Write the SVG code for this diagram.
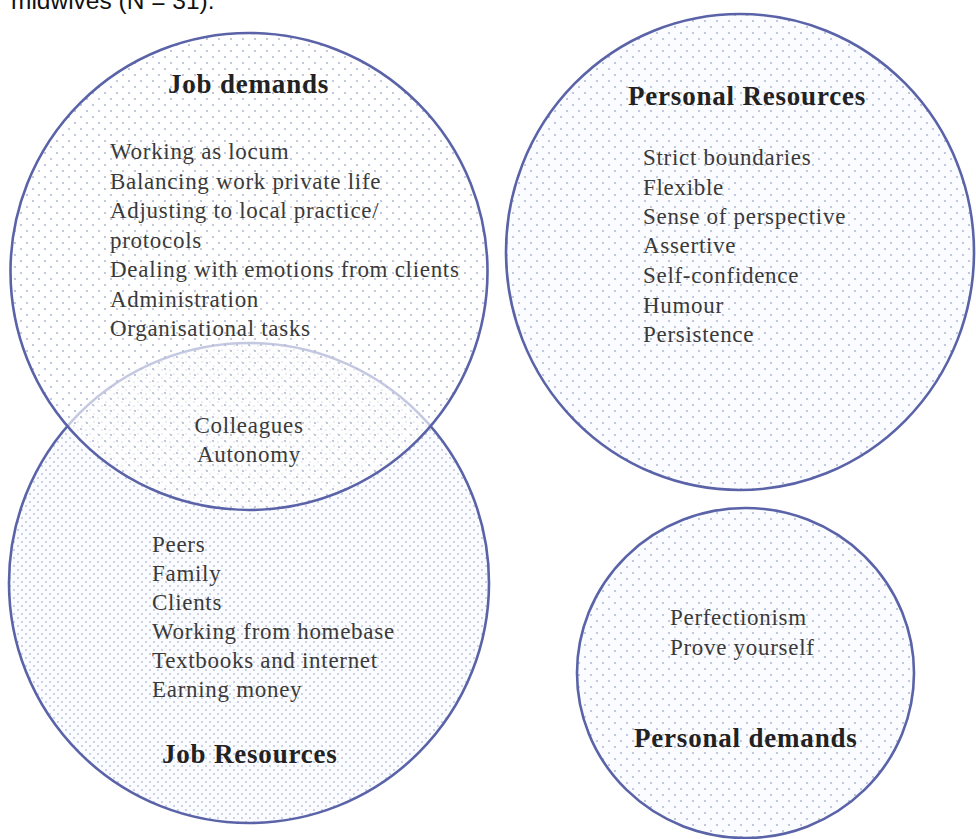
<svg xmlns="http://www.w3.org/2000/svg" width="976" height="839" viewBox="0 0 976 839">
  <defs>
    <pattern id="dots" width="12" height="12" patternUnits="userSpaceOnUse">
      <circle cx="3" cy="3" r="1.1" fill="#b4bbd4"/>
      <circle cx="9" cy="9" r="1.1" fill="#b4bbd4"/>
    </pattern>
    <pattern id="dotsDense" width="8" height="8" patternUnits="userSpaceOnUse">
      <circle cx="2" cy="2" r="1" fill="#bcc3da"/>
      <circle cx="6" cy="6" r="1" fill="#bcc3da"/>
    </pattern>
  </defs>
  <style>
    .ring { stroke: #5a63a8; stroke-width: 2.6; }
    .title { font-family: "Liberation Serif", "Times New Roman", serif; font-weight: bold; font-size: 27px; letter-spacing: 0.8px; fill: #222; }
    .item { font-family: "Liberation Serif", "Times New Roman", serif; font-size: 23px; letter-spacing: 0.7px; fill: #3a3a3a; }
    .caption { font-family: "Liberation Sans", Arial, sans-serif; font-size: 24.5px; fill: #111; }
  </style>

  <rect width="976" height="839" fill="#ffffff"/>

  <!-- caption line, partly cut off at the top edge -->
  <text class="caption" x="11" y="9">midwives (N = 31).</text>

  <!-- Job Resources (lower left circle) -->
  <g id="job-resources">
    <circle cx="249" cy="583" r="240" fill="#fbfcff"/>
    <circle cx="249" cy="583" r="240" fill="url(#dotsDense)" class="ring"/>
    <text class="item" x="152" y="552">Peers</text>
    <text class="item" x="152" y="581">Family</text>
    <text class="item" x="152" y="610">Clients</text>
    <text class="item" x="152" y="639">Working from homebase</text>
    <text class="item" x="152" y="668">Textbooks and internet</text>
    <text class="item" x="152" y="697">Earning money</text>
    <text class="title" x="162" y="763">Job Resources</text>
  </g>

  <!-- Job demands (upper left circle, overlapping Job Resources) -->
  <g id="job-demands">
    <circle cx="249" cy="271.5" r="238.5" fill="#ffffff" fill-opacity="0.65"/>
    <circle cx="249" cy="271.5" r="238.5" fill="url(#dots)" class="ring"/>
    <text class="title" x="168" y="93">Job demands</text>
    <text class="item" x="110" y="159">Working as locum</text>
    <text class="item" x="110" y="188.5">Balancing work private life</text>
    <text class="item" x="110" y="218">Adjusting to local practice/</text>
    <text class="item" x="110" y="247.5">protocols</text>
    <text class="item" x="110" y="277">Dealing with emotions from clients</text>
    <text class="item" x="110" y="306.5">Administration</text>
    <text class="item" x="110" y="336">Organisational tasks</text>
  </g>

  <!-- items shared by both job circles -->
  <g id="overlap">
    <text class="item" x="249" y="433" text-anchor="middle">Colleagues</text>
    <text class="item" x="249" y="462" text-anchor="middle">Autonomy</text>
  </g>

  <!-- Personal Resources (upper right circle) -->
  <g id="personal-resources">
    <ellipse cx="740" cy="252" rx="234" ry="238" fill="#fbfcff"/>
    <ellipse cx="740" cy="252" rx="234" ry="238" fill="url(#dots)" class="ring"/>
    <text class="title" x="628" y="105">Personal Resources</text>
    <text class="item" x="643" y="165">Strict boundaries</text>
    <text class="item" x="643" y="195">Flexible</text>
    <text class="item" x="643" y="224">Sense of perspective</text>
    <text class="item" x="643" y="253">Assertive</text>
    <text class="item" x="643" y="283">Self-confidence</text>
    <text class="item" x="643" y="313">Humour</text>
    <text class="item" x="643" y="342">Persistence</text>
  </g>

  <!-- Personal demands (lower right circle) -->
  <g id="personal-demands">
    <ellipse cx="745.5" cy="673" rx="168.5" ry="165" fill="#fbfcff"/>
    <ellipse cx="745.5" cy="673" rx="168.5" ry="165" fill="url(#dots)" class="ring"/>
    <text class="item" x="670" y="625">Perfectionism</text>
    <text class="item" x="670" y="655">Prove yourself</text>
    <text class="title" x="634" y="747">Personal demands</text>
  </g>

  <!-- no connectors in this figure -->
  <g id="connectors"/>
</svg>
